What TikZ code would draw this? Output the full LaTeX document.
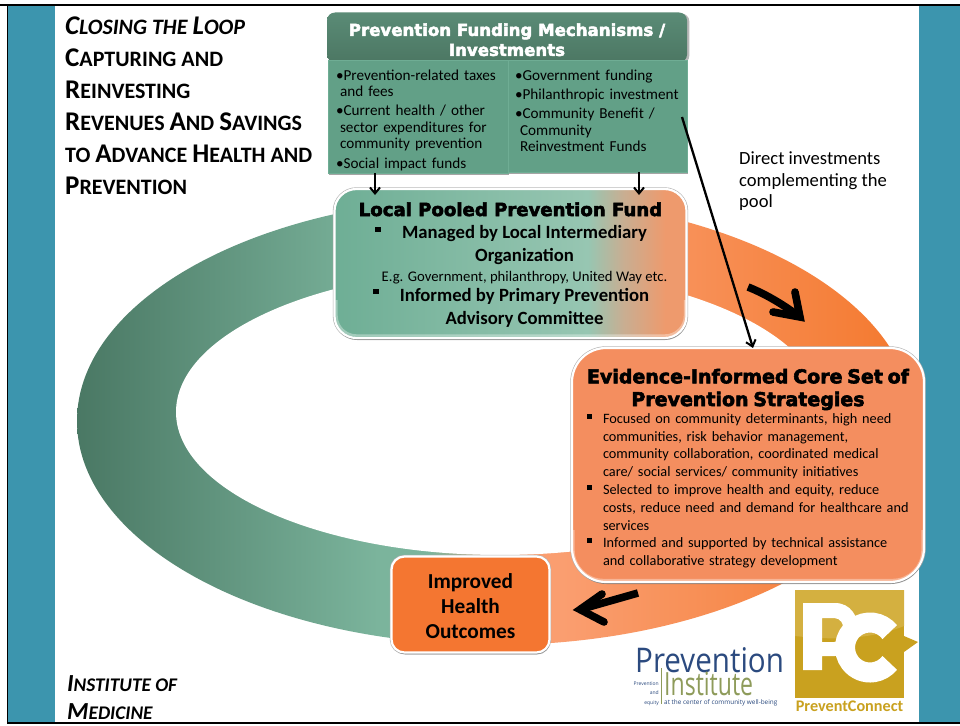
\documentclass[tikz,border=0pt]{standalone}
\usepackage{fontspec}
\setmainfont{Carlito}
\newfontfamily\hdfont[BoldFeatures={FakeBold=3}]{DejaVu Sans}
\newfontfamily\logoA[FakeStretch=0.87]{Open Sans}
\newfontfamily\logoB[FakeStretch=0.72]{Open Sans}
\newfontfamily\logofont{Open Sans}
\usetikzlibrary{arrows.meta,shadows}
\definecolor{teal}{HTML}{3C95AE}
\definecolor{rA}{HTML}{4A7864}
\definecolor{rB}{HTML}{7BB49C}
\definecolor{rC}{HTML}{FA9E70}
\definecolor{rD}{HTML}{F47A30}
\definecolor{pA}{HTML}{6EAE95}
\definecolor{pB}{HTML}{97C6B2}
\definecolor{pC}{HTML}{EE9A6D}
\definecolor{pM}{HTML}{C8AE92}
\definecolor{hdA}{HTML}{5A8B76}
\definecolor{hdB}{HTML}{4C7763}
\definecolor{boxg}{HTML}{62A087}
\definecolor{boxgT}{HTML}{6FAD94}
\definecolor{coreo}{HTML}{F48E5F}
\definecolor{imp}{HTML}{F47631}
\definecolor{gold}{HTML}{C9A11F}
\definecolor{goldL}{HTML}{D4B040}
\definecolor{navy}{HTML}{2B4A7F}
\definecolor{olive}{HTML}{8E9B5A}
\pgfdeclarehorizontalshading{ringshade}{100bp}{color(0bp)=(rA); color(25bp)=(rA); color(43bp)=(rB); color(46bp)=(rB); color(52bp)=(rC); color(54bp)=(rC); color(74bp)=(rD); color(100bp)=(rD)}
\pgfdeclarehorizontalshading{poolshade}{100bp}{color(0bp)=(pA); color(25bp)=(pA); color(61bp)=(pB); color(66bp)=(pM); color(72bp)=(pC); color(100bp)=(pC)}
\newcommand\sct[2]{{\fontsize{27}{27}\selectfont #1}{\fontsize{22}{22}\selectfont #2}}
\newcommand\scs[2]{{\fontsize{24.5}{24.5}\selectfont #1}{\fontsize{19.3}{19.3}\selectfont #2}}
\newcommand\shiftline{\hspace*{28pt}}
\tikzset{
  glossy/.style={draw=white,line width=2.2pt,preaction={draw=black!30,line width=3.4pt},drop shadow={shadow xshift=0.6pt,shadow yshift=-2pt,opacity=.45,fill=black!70},inner sep=0pt},
  gleam/.style={draw=white,opacity=.35,line width=2.4pt},
  listbox/.style={rectangle,fill=boxg,draw=boxgT,line width=.8pt,inner sep=0pt,drop shadow={shadow xshift=0.5pt,shadow yshift=-1.5pt,opacity=.5,fill=black!70},font=\fontsize{15.2}{17}\selectfont,align=left},
  conn/.style={draw=black,line width=2.3pt,-{Straight Barb[length=6pt,width=10pt,line width=2pt]}},
  flowmark/.style={draw=black,line width=7.6pt},
  bul/.style={fill=black},
}
\begin{document}
\begin{tikzpicture}[x=1pt,y=-1pt]
\useasboundingbox (0,0) rectangle (960,725);
% slide frame
\fill[white] (0,0) rectangle (960,725);
\fill[teal] (8,6) rectangle (55,722);
\fill[teal] (919,6) rectangle (960,722);
\fill[black] (0,4) rectangle (960,6.2);
\fill[black] (6.5,4) rectangle (8.2,724);
\fill[black] (6.5,722.3) rectangle (960,724);
% ring
\shade[shading=ringshade] (495,421) ellipse (418 and 224);
\fill[white] (500,412) ellipse (324 and 143);
% title
\node[anchor=north west,inner sep=0pt,align=left,font=\bfseries\fontsize{27}{32}\selectfont] (title) at (65,17)
{\textit{\sct{C}{LOSING THE }\sct{L}{OOP}}\\
 \sct{C}{APTURING AND}\\
 \sct{R}{EINVESTING}\\
 \sct{R}{EVENUES }\sct{A}{ND }\sct{S}{AVINGS}\\
 \sct{}{TO }\sct{A}{DVANCE }\sct{H}{EALTH AND}\\
 \sct{P}{REVENTION}};
\node[anchor=north west,inner sep=0pt,align=left,font=\bfseries\itshape\fontsize{24.5}{28}\selectfont] (iom) at (67,675.5)
{\scs{I}{NSTITUTE OF}\\ \scs{M}{EDICINE}};
% funding
\node[rectangle,rounded corners=8pt,top color=hdA,bottom color=hdB,minimum width=360pt,minimum height=50pt,inner sep=0pt,text=white,align=center,font=\hdfont\bfseries\fontsize{16.6}{23}\selectfont,drop shadow={shadow yshift=-1pt,opacity=.4,fill=black!70}] (fundhead) at (507,37.5)
{\rule{0pt}{17pt}Prevention Funding Mechanisms /\\[-3pt]Investments};
\node[listbox,minimum width=180pt,minimum height=113pt,text width=172pt] (fundL) at (418,116.5)
{\rule{0pt}{19pt}\hspace*{4pt}•Prevention-related taxes\\[-1pt]
 \hspace*{8pt}and fees\\[2pt]
 \hspace*{4pt}•Current health / other\\[0pt]
 \hspace*{8pt}sector expenditures for\\[-1pt]
 \hspace*{8pt}community prevention\\[3pt]
 \hspace*{4pt}•Social impact funds};
\node[listbox,minimum width=179pt,minimum height=112pt,text width=172pt] (fundR) at (597.5,116)
{\hspace*{3.5pt}•Government funding\\[2pt]
 \hspace*{3.5pt}•Philanthropic investment\\[2pt]
 \hspace*{3.5pt}•Community Benefit /\\[0pt]
 \hspace*{8.5pt}Community\\[-1pt]
 \hspace*{8.5pt}Reinvestment Funds\\[-6pt]\mbox{}};
% pool
\node[glossy,rectangle,rounded corners=22pt,shading=poolshade,minimum width=352pt,minimum height=149pt,align=center,font=\bfseries\fontsize{18.7}{23}\selectfont] (pool) at (510.5,263.5)
{\rule{0pt}{16pt}{\hdfont\bfseries\fontsize{18.1}{23}\selectfont Local Pooled Prevention Fund}\\[-1pt]
 \shiftline Managed by Local Intermediary\\[0pt]
 \shiftline Organization\\[-3pt]
 \shiftline{\mdseries\fontsize{14.7}{16}\selectfont E.g. Government, philanthropy, United Way etc.}\\[-3pt]
 \shiftline Informed by Primary Prevention\\[0pt]
 \shiftline Advisory Committee};
\fill[bul] (375,227) rectangle (381,232);
\fill[bul] (373,289) rectangle (379,294);
\draw[gleam,rounded corners=20pt] (336.5,300) -- (336.5,335.5) -- (685,335.5) -- (685,300);
% core
\node[glossy,rectangle,rounded corners=34pt,fill=coreo,minimum width=352pt,minimum height=234pt,text width=324pt,align=left,font=\fontsize{14.3}{17.8}\selectfont] (core) at (748,465)
{\rule{0pt}{21.5pt}\makebox[324pt][c]{\hdfont\bfseries\fontsize{19}{23}\selectfont Evidence-Informed Core Set of}\\[5pt]
 \makebox[324pt][c]{\hdfont\bfseries\fontsize{19}{23}\selectfont Prevention Strategies}\\[-0.5pt]
 \hspace*{17pt}Focused on community determinants, high need\\
 \hspace*{17pt}communities, risk behavior management,\\
 \hspace*{17pt}community collaboration, coordinated medical\\
 \hspace*{17pt}care/ social services/ community initiatives\\
 \hspace*{17pt}Selected to improve health and equity, reduce\\
 \hspace*{17pt}costs, reduce need and demand for healthcare and\\
 \hspace*{17pt}services\\
 \hspace*{17pt}Informed and supported by technical assistance\\
 \hspace*{17pt}and collaborative strategy development};
\fill[bul] (587,414) rectangle (592,419);
\fill[bul] (587,485) rectangle (592,490);
\fill[bul] (587,538) rectangle (592,543);
\draw[gleam,rounded corners=30pt] (573.5,530) -- (573.5,580) -- (922.5,580) -- (922.5,530);
% improved
\node[glossy,rectangle,rounded corners=13pt,fill=imp,minimum width=158pt,minimum height=96pt,align=center,font=\bfseries\fontsize{21.3}{25}\selectfont] (impr) at (470.5,604.5)
{\rule{0pt}{18pt}Improved\\Health\\Outcomes};
% direct text
\node[anchor=north west,inner sep=0pt,align=left,font=\fontsize{18.6}{21.7}\selectfont] (direct) at (739,151.5)
{Direct investments\\complementing the\\pool};
% connectors
\coordinate (c1) at (375,195);
\coordinate (c2) at (639,195);
\coordinate (c3s) at (682,117);
\coordinate (c3e) at (753,348);
\draw[conn] (fundL.south -| c1) -- (c1);
\draw[conn] (fundR.south -| c2) -- (c2);
\draw[conn] (c3s) -- (c3e);
% flow marks
\coordinate (m1a) at (748,287);
\coordinate (m1t) at (800,317);
\draw[flowmark] (m1a) .. controls (768,295) and (785,306) .. (m1t);
\draw[flowmark,line join=miter] (795,292) -- (m1t) -- (773,312);
\fill (795,292) circle (3.8);
\fill (773,312) circle (3.8);
\coordinate (m2a) at (638,593);
\coordinate (m2t) at (580,609.5);
\draw[flowmark] (m2a) -- (m2t);
\draw[flowmark,line join=miter] (602,594) -- (m2t) -- (604,622);
\fill (602,594) circle (3.8);
\fill (604,622) circle (3.8);
% Prevention Institute logo
\node[anchor=base west,inner sep=0pt,text=navy,font=\logoA\fontsize{34}{34}\selectfont] (piA) at (635,672) {Prevention};
\node[anchor=base west,inner sep=0pt,text=olive,font=\logoB\fontsize{32}{32}\selectfont] (piB) at (664,695) {Institute};
\node[anchor=base east,inner sep=0pt,text=navy,align=right,font=\logofont\fontsize{5}{9.5}\selectfont] (piC) at (659,704) {Prevention\\and\\equity};
\node[anchor=base west,inner sep=0pt,text=navy,font=\logofont\fontsize{6.4}{7}\selectfont] (piD) at (664,704) {at the center of community well-being};
\draw[olive,line width=1pt] (661,668) -- (661,704);
% PreventConnect logo
\fill[gold] (795,590) rectangle (904,698);
\fill[goldL] (795,590) -- (904,590) -- (904,626) .. controls (870,640) and (830,640) .. (795,636) -- cycle;
\fill[white,even odd rule] (803,603) -- (835,603) .. controls (866,603) and (866,656) .. (835,656) -- (822,656) -- (822,670) -- (803,670) -- cycle
  (822,618) -- (834,618) .. controls (847,618) and (847,642) .. (834,642) -- (822,642) -- cycle;
\draw[white,line width=20pt] (889.7,632.1) arc[start angle=-38,end angle=-322,radius=25];
\fill[gold] (897,634) -- (904,636) -- (918,642) -- (904,652) -- (899,660) -- (885,646) -- cycle;
\node[anchor=base,inner sep=0pt,text=gold,font=\bfseries\fontsize{16.2}{16}\selectfont] (pcname) at (849.5,711) {PreventConnect};
\end{tikzpicture}
\end{document}
